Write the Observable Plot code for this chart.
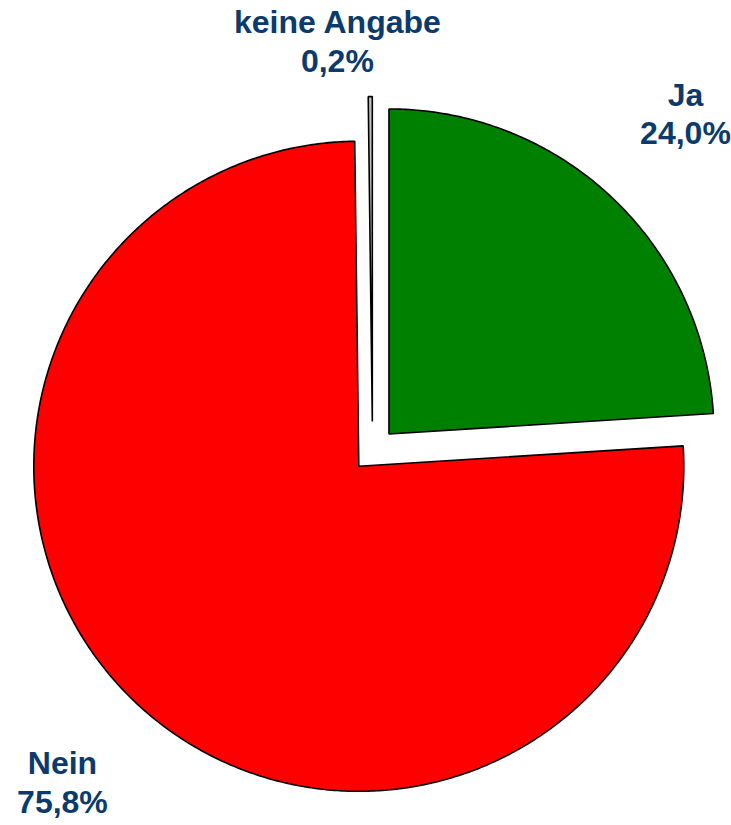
<!DOCTYPE html>
<html>
<head>
<meta charset="utf-8">
<script src="https://cdn.jsdelivr.net/npm/d3@7"></script>
<script src="https://cdn.jsdelivr.net/npm/@observablehq/plot@0.6"></script>
<style>
  html, body { margin: 0; padding: 0; background: #fff; }
  #chart svg { display: block; }
</style>
</head>
<body>
<div id="chart"></div>
<script>
// ---- data ----
const categories = ["Ja", "Nein", "keine Angabe"];
const values = [24.0, 75.8, 0.2];
const valueLabels = ["24,0%", "75,8%", "0,2%"];

// ---- styling / layout (not data) ----
const colors = ["#008000", "#ff0000", "#c0c0c0"];
const explode = [0.074, 0.062, 0.092];           // radial offset in radius units
const labelPos = [[0.963, 1.042], [-0.954, -1.015], [-0.108, 1.265]]; // label centres in radius units
const W = 731, H = 825;
const cx = 372, cy = 451, R = 325;

// ---- build slice polygons in unit-radius coordinates (y up, clockwise from top) ----
const total = d3.sum(values);
let acc = 0;
const polys = [];
categories.forEach((cat, i) => {
  const a0 = acc / total * 2 * Math.PI;
  acc += values[i];
  const a1 = acc / total * 2 * Math.PI;
  const mid = (a0 + a1) / 2;
  const ox = explode[i] * Math.sin(mid), oy = explode[i] * Math.cos(mid);
  const pts = [{cat, x: ox, y: oy}];
  const n = Math.max(2, Math.ceil((a1 - a0) / (Math.PI / 360)));
  for (let k = 0; k <= n; k++) {
    const a = a0 + (a1 - a0) * k / n;
    pts.push({cat, x: ox + Math.sin(a), y: oy + Math.cos(a)});
  }
  polys.push(...pts);
});

const labels = categories.map((c, i) => ({
  cat: c, text: c + "\n" + valueLabels[i], x: labelPos[i][0], y: labelPos[i][1]
}));

const chart = Plot.plot({
  width: W,
  height: H,
  margin: 0,
  style: {fontFamily: "'Liberation Sans', Arial, sans-serif", background: "#fff"},
  x: {domain: [-cx / R, (W - cx) / R], range: [0, W], axis: null},
  y: {domain: [-(H - cy) / R, cy / R], range: [H, 0], axis: null},
  color: {domain: categories, range: colors},
  marks: [
    Plot.line(polys, {
      x: "x", y: "y", z: "cat",
      fill: "cat",
      stroke: "#000",
      strokeWidth: 1.6,
      strokeLinejoin: "miter",
      curve: "linear-closed"
    }),
    Plot.text(labels, {
      x: "x", y: "y", text: "text",
      fill: "#0b3a6c",
      fontSize: 32,
      fontWeight: "bold",
      lineHeight: 1.2,
      textAnchor: "middle",
      lineAnchor: "middle"
    })
  ]
});
document.getElementById("chart").appendChild(chart);
</script>
</body>
</html>
